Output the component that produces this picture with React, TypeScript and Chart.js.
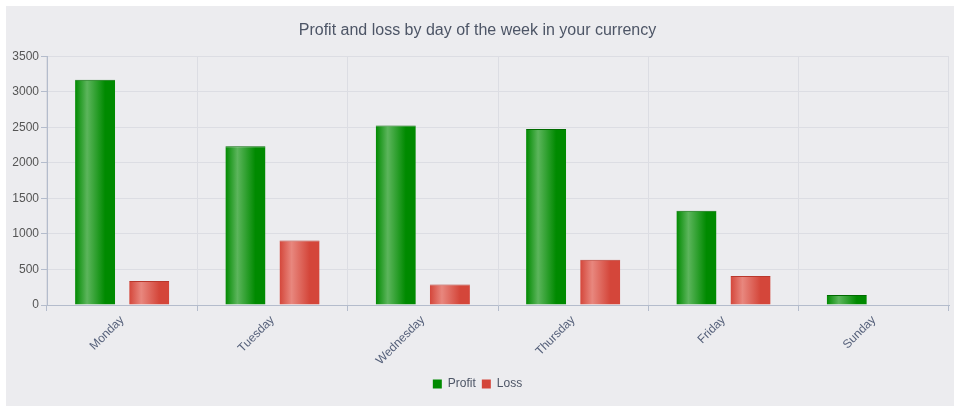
import React, { useEffect, useRef } from "react";
import { Chart, registerables } from "chart.js";

Chart.register(...registerables);

const categories = ["Monday", "Tuesday", "Wednesday", "Thursday", "Friday", "Sunday"];
const profitValues = [3170, 2232, 2525, 2475, 1325, 140];
const lossValues = [336, 908, 288, 638, 408, 0];
const yTicks = [0, 500, 1000, 1500, 2000, 2500, 3000, 3500];
const titleText = "Profit and loss by day of the week in your currency";

const FONT = "'Liberation Sans', Arial, Helvetica, sans-serif";

const palettes = [
  { dark: "#008a00", light: "#5cb55c", border: "#006a00", solid: "#008a00" },
  { dark: "#d4463a", light: "#e8877e", border: "#b8372c", solid: "#d4463a" },
];

const gradientPlugin = {
  id: "barGradient",
  beforeDatasetsDraw(chart: any) {
    const ctx = chart.ctx;
    chart.data.datasets.forEach((_d: any, di: number) => {
      const meta = chart.getDatasetMeta(di);
      const p = palettes[di];
      meta.data.forEach((el: any) => {
        const half = el.width / 2;
        const g = ctx.createLinearGradient(el.x - half, 0, el.x + half, 0);
        g.addColorStop(0, p.dark);
        g.addColorStop(0.3, p.light);
        g.addColorStop(0.75, p.dark);
        g.addColorStop(1, p.dark);
        el.options = Object.assign({}, el.options, { backgroundColor: g });
      });
    });
  },
};

export default function App() {
  const ref = useRef<HTMLCanvasElement | null>(null);
  useEffect(() => {
    if (!ref.current) return;
    const chart = new Chart(ref.current, {
      type: "bar",
      data: {
        labels: categories,
        datasets: [
          {
            label: "Profit",
            data: profitValues,
            backgroundColor: palettes[0].solid,
            borderColor: palettes[0].border,
            borderWidth: { top: 1, left: 0, right: 0, bottom: 0 },
            borderSkipped: "bottom",
            barPercentage: 0.74,
            categoryPercentage: 0.72,
          },
          {
            label: "Loss",
            data: lossValues,
            backgroundColor: palettes[1].solid,
            borderColor: palettes[1].border,
            borderWidth: { top: 1, left: 0, right: 0, bottom: 0 },
            borderSkipped: "bottom",
            barPercentage: 0.74,
            categoryPercentage: 0.72,
          },
        ],
      },
      plugins: [gradientPlugin],
      options: {
        animation: false,
        responsive: false,
        maintainAspectRatio: false,
        layout: { padding: { left: 0, right: 5, top: 0, bottom: 6 } },
        plugins: {
          title: {
            display: true,
            text: titleText,
            color: "#4d5566",
            font: { family: FONT, size: 16, weight: "normal" },
            padding: { top: 15, bottom: 16 },
          },
          legend: {
            position: "bottom",
            labels: {
              boxWidth: 9,
              boxHeight: 9,
              padding: 6,
              color: "#4d5566",
              font: { family: FONT, size: 12 },
              generateLabels: (chart: any) =>
                chart.data.datasets.map((d: any, i: number) => ({
                  text: d.label,
                  fillStyle: palettes[i].solid,
                  strokeStyle: palettes[i].solid,
                  lineWidth: 0,
                  fontColor: "#4d5566",
                  hidden: false,
                  datasetIndex: i,
                })),
            },
          },
          tooltip: { enabled: false },
        },
        scales: {
          x: {
            offset: true,
            grid: {
              offset: true,
              color: "#dcdde3",
              tickColor: "#b4bccc",
              tickLength: 6,
            },
            border: { color: "#b4bccc", width: 1 },
            ticks: {
              color: "#55607a",
              font: { family: FONT, size: 12 },
              minRotation: 45,
              maxRotation: 45,
              padding: 2,
            },
            afterFit: (scale: any) => {
              scale.height = 67;
            },
          },
          y: {
            min: 0,
            max: 3500,
            afterBuildTicks: (scale: any) => {
              scale.ticks = yTicks.map((v) => ({ value: v }));
            },
            grid: {
              color: "#dcdde3",
              tickColor: "#b4bccc",
              tickLength: 6,
            },
            border: { color: "#b4bccc", width: 1 },
            ticks: {
              color: "#555555",
              font: { family: FONT, size: 12 },
              padding: 2,
              callback: (v: any) => String(v),
            },
            afterFit: (scale: any) => {
              scale.width = 41;
            },
          },
        },
      },
    });
    return () => chart.destroy();
  }, []);
  return (
    <div
      style={{
        position: "absolute",
        left: 6,
        top: 6,
        width: 948,
        height: 400,
        background: "#ececef",
      }}
    >
      <canvas ref={ref} width={948} height={400} style={{ display: "block", width: 948, height: 400 }} />
    </div>
  );
}
